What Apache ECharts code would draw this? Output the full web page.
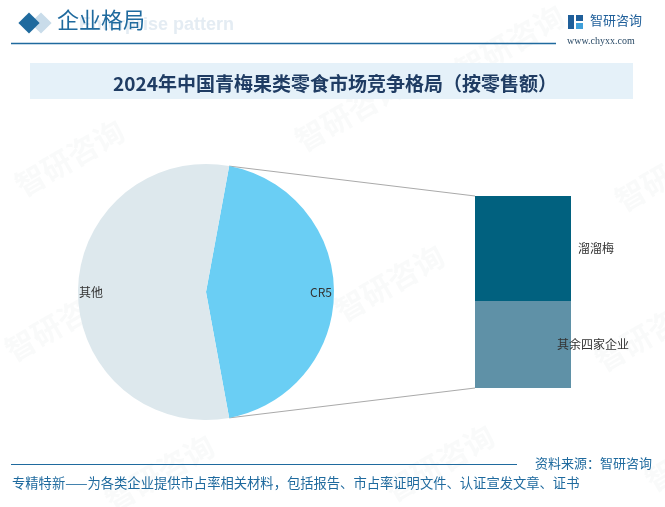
<!DOCTYPE html>
<html><head><meta charset="utf-8">
<script src="https://cdn.jsdelivr.net/npm/echarts@6/dist/echarts.min.js"></script>
<style>html,body{margin:0;padding:0;background:#fff}#c{width:665px;height:507px}</style>
</head><body><div id="c"></div>
<script>
// ---- data ----
const pieNames = ['CR5', '其他'];
const pieValues = [44.2, 55.8];
const barNames = ['其余四家企业', '溜溜梅'];
const barValues = [20.0, 24.2];
const barCategory = ['CR5'];

const titleText = '2024年中国青梅果类零食市场竞争格局（按零售额）';
const headerText = '企业格局';
const headerEn = 'Enterprise pattern';
const sourceText = '资料来源：智研咨询';
const footerText = '专精特新——为各类企业提供市占率相关材料，包括报告、市占率证明文件、认证宣发文章、证书';

// ---- layout ----
const CJK = '"Noto Sans CJK SC","Noto Sans",sans-serif';
const pieCenter = [206, 292], pieR = 128;
const gridL = 475, gridT = 196, gridW = 96, gridH = 192;
const pieColors = ['#6ACEF4', '#DDE8ED'];
const barColors = ['#5F91A7', '#01617F'];

const pieTotal = pieValues.reduce((a, b) => a + b, 0);
const startAngle = pieValues[0] / pieTotal * 360 / 2;
const barTotal = barValues.reduce((a, b) => a + b, 0);

const chart = echarts.init(document.getElementById('c'), null, {renderer: 'canvas'});

const pieData = pieNames.map((n, i) => ({name: n, value: pieValues[i], itemStyle: {color: pieColors[i]}}));

const watermarkPos = [[10,175],[290,130],[450,60],[610,190],[0,340],[330,300],[590,350],[100,490],[380,480],[640,470],[180,250]];
const watermarks = watermarkPos.map((p, i) => ({
  type: 'text', id: 'wm' + i, x: p[0], y: p[1], rotation: Math.PI / 6, silent: true, z: 0,
  style: {text: '智研咨询', font: 'bold 30px ' + CJK, fill: 'rgba(120,135,150,0.045)'}
}));

const graphics = watermarks.concat([
  // header
  {type: 'text', id: 'hen', left: 79, top: 16, z: 1, style: {text: headerEn, font: 'bold 18px "Liberation Sans",Arial,sans-serif', fill: '#E4ECF3'}},
  {type: 'rect', id: 'd2', x: 41, y: 23, rotation: Math.PI / 4, z: 2, shape: {x: -7.5, y: -7.5, width: 15, height: 15}, style: {fill: '#C9DCEA'}},
  {type: 'rect', id: 'd1', x: 29, y: 23, rotation: Math.PI / 4, z: 3, shape: {x: -7.5, y: -7.5, width: 15, height: 15}, style: {fill: '#1F6A9E'}},
  {type: 'text', id: 'htxt', left: 57, top: 9, z: 3, style: {text: headerText, font: '22px ' + CJK, fill: '#1F6A9E'}},
  {type: 'line', id: 'hline', z: 3, shape: {x1: 11, y1: 43.5, x2: 556, y2: 43.5}, style: {stroke: '#1F6A9E', lineWidth: 1.5}},
  // logo
  {type: 'rect', id: 'lg1', z: 3, shape: {x: 568, y: 15, width: 6, height: 14}, style: {fill: '#1F5F9A'}},
  {type: 'rect', id: 'lg2', z: 3, shape: {x: 576, y: 15, width: 7, height: 6}, style: {fill: '#1F5F9A'}},
  {type: 'rect', id: 'lg3', z: 3, shape: {x: 576, y: 23, width: 7, height: 6}, style: {fill: '#3FA0DA'}},
  {type: 'text', id: 'lgt', left: 590, top: 14, z: 3, style: {text: '智研咨询', font: '13px ' + CJK, fill: '#1F5F9A'}},
  {type: 'text', id: 'lgu', left: 567, top: 36, z: 3, style: {text: 'www.chyxx.com', font: '10px "Liberation Serif","DejaVu Serif",serif', fill: '#2A4A66'}},
  // title box
  {type: 'rect', id: 'tbox', z: 1, shape: {x: 30, y: 63, width: 603, height: 36}, style: {fill: '#E5F1F9'}},
  // footer
  {type: 'line', id: 'fline', z: 3, shape: {x1: 11, y1: 464.5, x2: 517, y2: 464.5}, style: {stroke: '#1F6A9E', lineWidth: 1.2}},
  {type: 'text', id: 'src', left: 535, top: 457, z: 3, style: {text: sourceText, font: '13px ' + CJK, fill: '#1F6A9E'}},
  {type: 'text', id: 'ftxt', left: 12, top: 476, z: 3, style: {text: footerText, font: '13.3px ' + CJK, fill: '#1F6A9E'}}
]);

chart.setOption({
  animation: false,
  backgroundColor: '#fff',
  title: {
    text: titleText, left: 330, textAlign: 'center', top: 69,
    textStyle: {fontFamily: CJK, fontSize: 19, fontWeight: 'bold', color: '#1F3C63'}
  },
  grid: {left: gridL, top: gridT, width: gridW, height: gridH},
  xAxis: {type: 'category', data: barCategory, show: false},
  yAxis: {type: 'value', min: 0, max: barTotal, show: false},
  series: [
    {
      type: 'pie', center: pieCenter, radius: [0, pieR], startAngle: startAngle, clockwise: true,
      data: pieData, label: {show: false}, labelLine: {show: false}, silent: true, z: 2
    },
    {
      type: 'pie', center: pieCenter, radius: [pieR - 28, pieR - 4], startAngle: startAngle, clockwise: true,
      data: pieNames.map((n, i) => ({name: n, value: pieValues[i]})),
      itemStyle: {color: 'transparent'}, silent: true, z: 3,
      label: {show: true, position: 'inside', formatter: '{b}', fontFamily: CJK, fontSize: 12, color: '#333'},
      labelLine: {show: false}, emphasis: {disabled: true}
    },
    ...barNames.map((n, i) => ({
      type: 'bar', name: n, stack: 'cr5', barWidth: '100%', data: [barValues[i]],
      itemStyle: {color: barColors[i]}, silent: true,
      label: {show: true, formatter: n, position: [i === 0 ? 118 : 121, '50%'], align: 'center', verticalAlign: 'middle', fontFamily: CJK, fontSize: 12, color: '#333'}
    }))
  ],
  graphic: graphics
});

// connecting lines from the CR5 slice edges to the bar edges
const a = startAngle * Math.PI / 180;
const ex = pieCenter[0] + pieR * Math.cos(a);
const eyTop = pieCenter[1] - pieR * Math.sin(a);
const eyBot = pieCenter[1] + pieR * Math.sin(a);
const barTopY = chart.convertToPixel({yAxisIndex: 0}, barTotal);
const barBotY = chart.convertToPixel({yAxisIndex: 0}, 0);
const barLeftX = chart.convertToPixel({xAxisIndex: 0}, barCategory[0]) - gridW / 2;
chart.setOption({
  graphic: graphics.concat([
    {type: 'line', id: 'c1', z: 1, shape: {x1: ex, y1: eyTop, x2: barLeftX, y2: barTopY}, style: {stroke: '#AAAAAA', lineWidth: 1}},
    {type: 'line', id: 'c2', z: 1, shape: {x1: ex, y1: eyBot, x2: barLeftX, y2: barBotY}, style: {stroke: '#AAAAAA', lineWidth: 1}}
  ])
});
</script>
</body></html>
